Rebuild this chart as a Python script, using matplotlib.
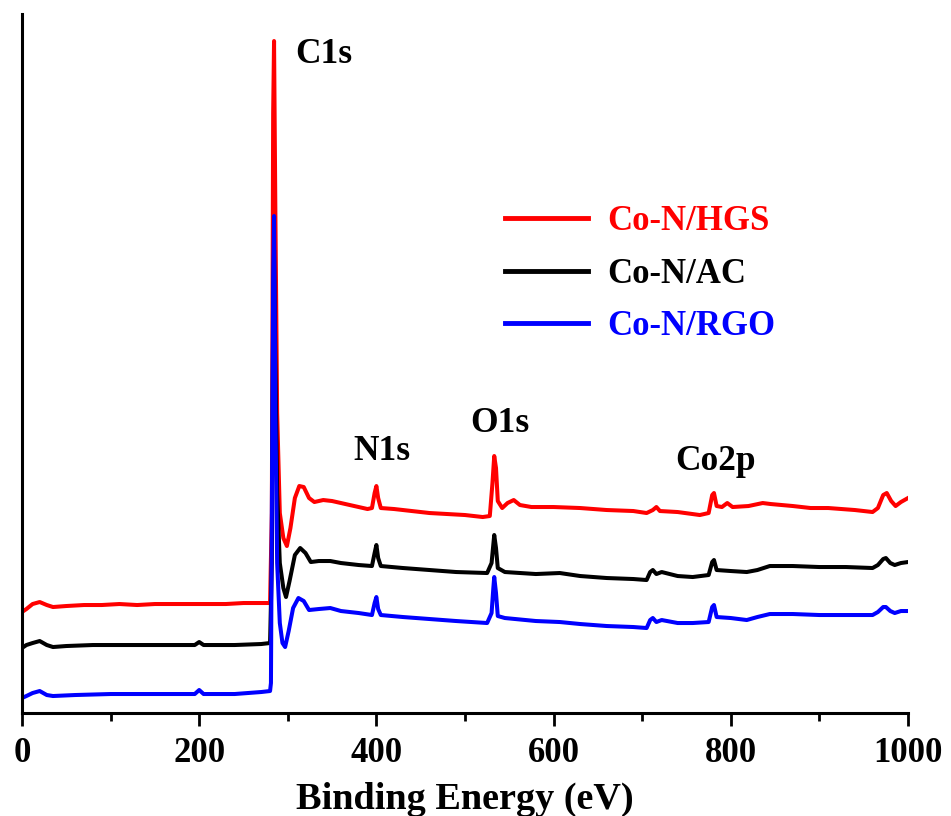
import matplotlib
matplotlib.use("Agg")
import matplotlib.pyplot as plt
from matplotlib.ticker import MultipleLocator

# XPS survey spectra (arbitrary intensity units)
e_hgs = [0, 5, 12, 20, 28, 35, 50, 70, 90, 110, 130, 150, 170, 200, 230, 250, 270, 280,
         282, 283.5, 284.5, 286, 288, 291, 295, 299, 303, 308, 313, 318, 324, 330, 340, 350,
         360, 375, 390, 395, 398, 400, 402, 405, 420, 440, 460, 480, 500, 520, 528, 531, 533,
         535, 537, 542, 548, 555, 562, 575, 600, 630, 660, 690, 705, 712, 716, 720, 740, 765,
         775, 779, 781, 784, 790, 796, 802, 820, 836, 845, 870, 890, 910, 940, 960, 966, 972,
         976, 981, 986, 992, 1000]
i_hgs = [101, 104, 109, 111, 108, 106, 107, 108, 108, 109, 108, 109, 109, 109, 109, 110, 110, 110,
         200, 600, 672, 500, 300, 200, 175, 167, 185, 215, 227, 226, 215, 211, 213, 212,
         210, 207, 204, 205, 220, 227, 215, 205, 204, 202, 200, 199, 198, 196, 197, 230, 257,
         245, 212, 205, 210, 213, 208, 206, 206, 205, 203, 202, 200, 203, 206, 202, 201, 198,
         200, 218, 220, 207, 206, 210, 206, 207, 210, 209, 207, 205, 205, 203, 201, 205, 218,
         220, 212, 207, 211, 215]

e_ac = [0, 5, 12, 20, 28, 35, 50, 80, 120, 160, 195, 200, 205, 240, 270, 280,
        282, 283.5, 284.5, 286, 288, 291, 295, 298, 302, 308, 314, 320, 326, 335, 348, 360,
        380, 395, 398, 400, 402, 405, 430, 460, 490, 525, 530, 533, 535, 537, 545, 580, 607,
        630, 660, 690, 705, 709, 712, 716, 722, 740, 757, 775, 779, 781, 784, 800, 818, 830,
        844, 870, 900, 930, 960, 966, 972, 975, 980, 985, 992, 1000]
i_ac = [65, 68, 70, 72, 68, 66, 67, 68, 68, 68, 68, 71, 68, 68, 69, 70,
        150, 400, 463, 350, 220, 150, 125, 116, 132, 158, 165, 160, 151, 152, 152, 150,
        148, 147, 160, 168, 155, 147, 145, 143, 141, 140, 150, 178, 165, 145, 141, 139, 140,
        137, 135, 134, 133, 141, 143, 139, 141, 137, 136, 138, 151, 153, 143, 142, 141, 143,
        147, 147, 146, 146, 145, 148, 154, 155, 150, 148, 150, 151]

e_rgo = [0, 5, 12, 20, 28, 35, 60, 100, 150, 195, 200, 205, 240, 270, 280, 281,
         282, 283.5, 284.5, 286, 288, 291, 294, 297, 301, 306, 312, 318, 324, 335, 348, 360,
         380, 395, 398, 400, 402, 405, 430, 460, 490, 525, 530, 532, 533, 535, 537, 545, 580,
         607, 630, 660, 690, 705, 709, 712, 716, 722, 740, 757, 775, 779, 781, 784, 800, 818,
         830, 844, 870, 900, 930, 960, 966, 972, 975, 980, 985, 992, 1000]
i_rgo = [15, 17, 20, 22, 18, 17, 18, 19, 19, 19, 23, 19, 19, 21, 22, 30,
         200, 430, 497, 300, 150, 90, 70, 66, 82, 105, 115, 112, 103, 104, 105, 102,
         100, 98, 110, 116, 104, 98, 96, 94, 92, 90, 100, 125, 136, 120, 97, 95, 92,
         91, 89, 87, 86, 85, 93, 95, 91, 93, 90, 90, 91, 106, 108, 96, 95, 93,
         96, 99, 99, 98, 98, 98, 101, 106, 106, 102, 100, 102, 102]

labels = ["Co-N/HGS", "Co-N/AC", "Co-N/RGO"]
colors = ["#ff0000", "#000000", "#0000ff"]

# peak annotations: text, energy, intensity (baseline position)
peak_names = ["C1s", "N1s", "O1s", "Co2p"]
peak_e = [308, 374, 506, 737]
peak_i = [650, 253, 281, 243]

plt.rcParams['font.family'] = ['Liberation Serif', 'DejaVu Serif']
plt.rcParams['font.weight'] = 'bold'

fig = plt.figure(figsize=(9.51, 8.16), dpi=100)
ax = fig.add_axes([0.0231, 0.1262, 0.9317, 0.8566])

ax.plot(e_hgs, i_hgs, color=colors[0], lw=2.9, label=labels[0], solid_joinstyle='round')
ax.plot(e_ac, i_ac, color=colors[1], lw=2.9, label=labels[1], solid_joinstyle='round')
ax.plot(e_rgo, i_rgo, color=colors[2], lw=2.9, label=labels[2], solid_joinstyle='round')

for name, x, y in zip(peak_names, peak_e, peak_i):
    ax.text(x, y, name, fontsize=25.5, fontweight='bold', va='baseline', ha='left')

ax.set_xlim(0, 1000)
ax.set_ylim(0, 699)
ax.xaxis.set_major_locator(MultipleLocator(200))
ax.xaxis.set_minor_locator(MultipleLocator(100))
ax.tick_params(axis='x', which='major', direction='out', length=9, width=2, labelsize=25, pad=8)
ax.tick_params(axis='x', which='minor', direction='out', length=6, width=2)
ax.set_yticks([])
for lbl in ax.get_xticklabels():
    lbl.set_fontweight('bold')
ax.spines['top'].set_visible(False)
ax.spines['right'].set_visible(False)
ax.spines['left'].set_linewidth(2.2)
ax.spines['bottom'].set_linewidth(2.2)

ax.set_xlabel("Binding Energy (eV)", fontsize=27.5, fontweight='bold', labelpad=9)

leg = ax.legend(loc='upper left', bbox_to_anchor=(0.51, 0.771), frameon=False,
                handlelength=2.4, handletextpad=0.55, labelspacing=0.56,
                labelcolor='linecolor', prop={'weight': 'bold', 'size': 25})
for h in leg.get_lines():
    h.set_linewidth(3.5)

fig.savefig("out.png", dpi=100)
